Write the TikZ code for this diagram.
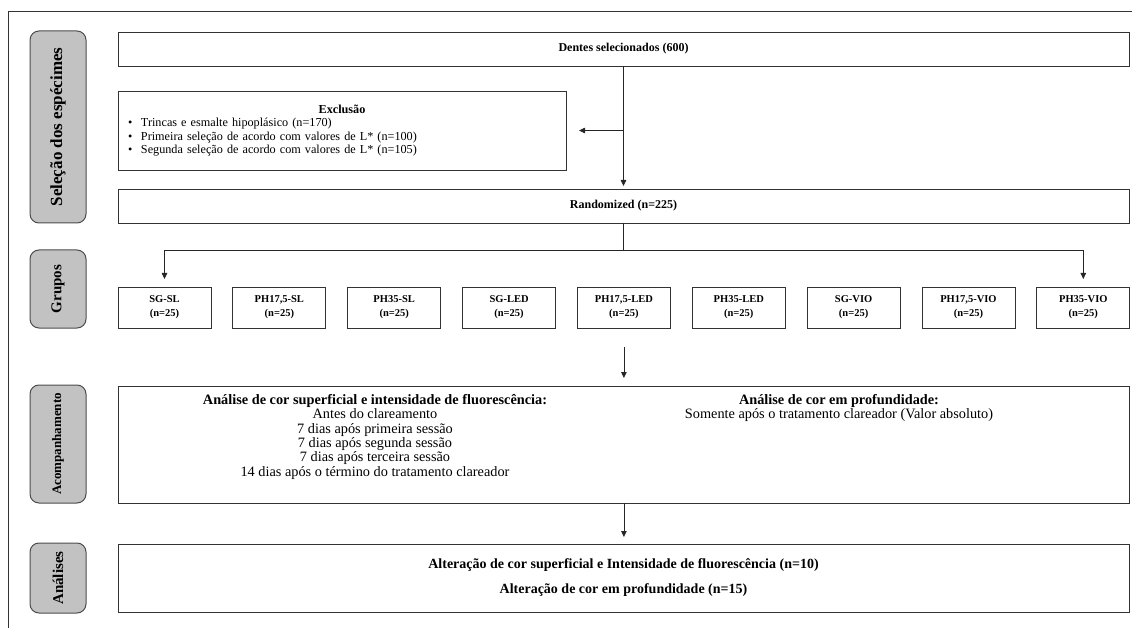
\documentclass[tikz,border=0pt]{standalone}
\usepackage{fontspec}
\setmainfont{Liberation Serif}
\usetikzlibrary{positioning,arrows.meta}

\begin{document}
\begin{tikzpicture}[
  x=1pt, y=1pt,
  box/.style={rectangle, draw=black!80, line width=0.9pt, fill=white, align=center,
              inner sep=0pt, outer sep=0pt, minimum width=1011pt,
              font=\fontsize{12}{14.4}\selectfont\bfseries},
  grp/.style={box, minimum width=93pt, minimum height=41pt,
              font=\fontsize{10.5}{14}\selectfont\bfseries},
  tag/.style={rectangle, rounded corners=9pt, draw=black!70, line width=1pt, fill=black!24,
              minimum height=56pt, rotate=90, inner sep=0pt, outer sep=0pt},
  txt/.style={align=center, inner sep=0pt, font=\fontsize{14.3}{14.4}\selectfont},
  arrow/.style={-{Triangle[length=6pt,width=5.5pt]}, line width=0.8pt, black!85}
]
\useasboundingbox (0,0) rectangle (1132,-628);
% frame
\draw[line width=0.8pt, black!80] (8,-628) -- (8,-11) -- (1132,-11);

% stage tags
\node[tag, minimum width=192pt, font=\fontsize{17}{20}\selectfont\bfseries] (tsel) at (58,-127) {Seleção dos espécimes};
\node[tag, minimum width=78pt, font=\fontsize{15}{18}\selectfont\bfseries] (tgrp) at (58,-289) {Grupos};
\node[tag, minimum width=118pt, font=\fontsize{13}{16}\selectfont\bfseries] (tacp) at (58,-444) {Acompanhamento};
\node[tag, minimum width=70pt, font=\fontsize{15}{18}\selectfont\bfseries] (tana) at (58,-578) {Análises};

% main column
\node[box, minimum height=34pt] (dentes) at (623.5,-49) {Dentes selecionados (600)};
\node[box, minimum width=448pt, minimum height=79pt, align=left, text width=428pt,
      font=\fontsize{12.2}{13.5}\selectfont,
      below=25pt of dentes.south west, anchor=north west] (excl)
  {\makebox[428pt]{\bfseries Exclusão}\\
   \makebox[13pt][l]{\textbullet}Trincas e esmalte hipoplásico (n=170)\\
   \makebox[13pt][l]{\textbullet}Primeira seleção de acordo com valores de L* (n=100)\\
   \makebox[13pt][l]{\textbullet}Segunda seleção de acordo com valores de L* (n=105)};
\node[box, minimum height=34pt, below=19pt of excl.south west, anchor=north west] (rand) {Randomized (n=225)};

% groups
\node[grp, below=64pt of rand.south west, anchor=north west] (g1) {SG-SL\\(n=25)};
\node[grp, right=21.85pt of g1] (g2) {PH17,5-SL\\(n=25)};
\node[grp, right=21.85pt of g2] (g3) {PH35-SL\\(n=25)};
\node[grp, right=21.85pt of g3] (g4) {SG-LED\\(n=25)};
\node[grp, right=21.85pt of g4] (g5) {PH17,5-LED\\(n=25)};
\node[grp, right=21.85pt of g5] (g6) {PH35-LED\\(n=25)};
\node[grp, right=21.85pt of g6] (g7) {SG-VIO\\(n=25)};
\node[grp, right=21.85pt of g7] (g8) {PH17,5-VIO\\(n=25)};
\node[grp, right=21.85pt of g8] (g9) {PH35-VIO\\(n=25)};

% follow-up
\node[box, minimum height=117pt, below=58pt of g1.south west, anchor=north west] (acomp) {};
\node[txt, anchor=north] (acL) at ([xshift=257pt,yshift=-8pt]acomp.north west)
  {\textbf{Análise de cor superficial e intensidade de fluorescência:}\\
   Antes do clareamento\\
   7 dias após primeira sessão\\
   7 dias após segunda sessão\\
   7 dias após terceira sessão\\
   14 dias após o término do tratamento clareador};
\node[txt, anchor=north] (acR) at ([xshift=721pt,yshift=-8pt]acomp.north west)
  {\textbf{Análise de cor em profundidade:}\\
   Somente após o tratamento clareador (Valor absoluto)};

% analyses
\node[box, minimum height=68pt, font=\fontsize{14}{25}\selectfont\bfseries,
      below=41pt of acomp.south west, anchor=north west] (anal)
  {Alteração de cor superficial e Intensidade de fluorescência (n=10)\\
   Alteração de cor em profundidade (n=15)};

% connectors
\draw[arrow, shorten >=3pt] (dentes) -- (rand);
\draw[arrow, shorten >=13pt] (dentes.south |- excl.east) -- (excl.east);
\draw[arrow, shorten >=8pt] (rand.south) -- ++(0,-27pt) -| (g1.north);
\draw[arrow, shorten >=8pt] (rand.south) -- ++(0,-27pt) -| (g9.north);
\draw[arrow, shorten <=19pt, shorten >=8pt] (g5.south) -- (g5.south |- acomp.north);
\draw[arrow, shorten >=7pt] (acomp.south -| g5.south) -- (g5.south |- anal.north);
\end{tikzpicture}
\end{document}
